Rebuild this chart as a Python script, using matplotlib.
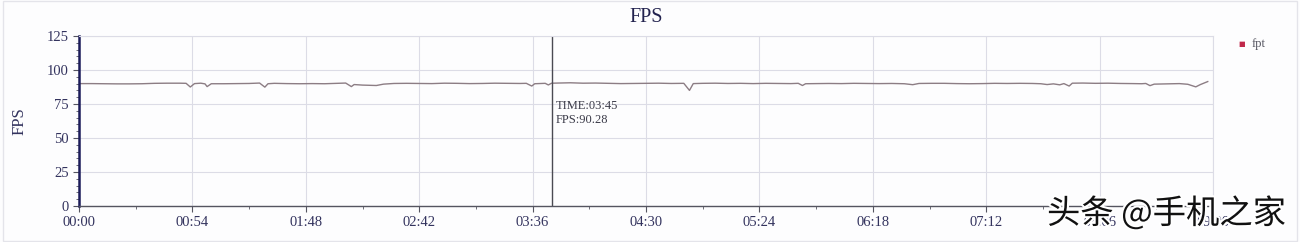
import matplotlib
matplotlib.use("Agg")
import matplotlib.pyplot as plt
from matplotlib.ticker import MultipleLocator, FuncFormatter
from matplotlib.patches import Rectangle
import matplotlib.patheffects as pe

# ---- data (seconds, fps) ----
times = [0, 6, 12, 18, 24, 30, 36, 42, 48, 51, 53, 55, 58, 60, 61, 63, 69, 75, 81, 86,
         88.5, 90, 93, 99, 105, 111, 117, 123, 127, 129.7, 131, 135, 141.6, 145, 150,
         156, 162, 168, 174, 180, 186, 192, 198, 204, 210, 213, 215.6, 217, 222, 223.5,
         225, 228, 234, 240, 246, 252, 258, 264, 270, 276, 282, 288, 290.7, 292.5, 297,
         303, 309, 315, 321, 327, 333, 339, 342.5, 344.5, 346, 351, 357, 363, 369, 375,
         381, 387, 393, 397, 400, 406, 412, 418, 424, 430, 436, 442, 448, 454, 458, 461,
         464, 467, 469, 471.5, 473, 478, 484, 490, 496, 502, 506, 508, 510, 512, 518,
         524, 528, 531.8, 534, 537.5]
fps = [90.0, 90.0, 89.9, 89.8, 89.8, 89.9, 90.2, 90.3, 90.3, 90.2, 87.5, 90.0, 90.3, 89.8,
       87.8, 89.9, 89.9, 90.0, 90.1, 90.4, 87.4, 89.9, 90.2, 90.0, 89.9, 90.0, 89.9, 90.2,
       90.4, 87.8, 89.3, 88.9, 88.6, 89.6, 90.1, 90.2, 90.1, 90.0, 90.3, 90.2, 90.0, 90.1,
       90.3, 90.2, 90.1, 90.2, 88.2, 89.9, 90.2, 89.0, 90.28, 90.4, 90.6, 90.3, 90.4, 90.2,
       90.0, 90.1, 90.2, 90.3, 90.1, 90.2, 85.0, 90.0, 90.2, 90.3, 90.1, 90.2, 90.0, 90.2,
       90.1, 90.0, 90.2, 88.6, 89.9, 90.0, 90.1, 90.0, 90.2, 90.1, 90.0, 90.1, 89.9, 89.2,
       90.1, 90.2, 90.2, 90.0, 89.9, 90.0, 90.2, 90.1, 90.2, 90.1, 89.9, 89.3, 89.8, 89.1,
       90.0, 88.2, 90.3, 90.4, 90.2, 90.3, 90.1, 90.0, 89.9, 90.1, 88.5, 89.6, 89.8, 90.0,
       89.5, 87.6, 89.3, 91.5]

cursor_time = 225
cursor_label = "TIME:03:45\nFPS:90.28"
series_name = "fpt"
title = "FPS"
watermark = "头条 @手机之家"

serif = ["Liberation Serif", "DejaVu Serif"]
txt_col = "#33335e"

fig = plt.figure(figsize=(13, 2.42), dpi=100)
fig.patch.set_facecolor("#fdfdfe")
fig.patches.append(Rectangle((0.002, 0.004), 0.996, 0.992, transform=fig.transFigure,
                             fill=False, edgecolor="#e4e4ea", lw=1))

ax = fig.add_axes([79 / 1300, 1 - 206 / 242, (1213 - 79) / 1300, (206 - 36) / 242])
ax.set_facecolor("#fdfdfe")
ax.plot(times, fps, color="#8c7d84", lw=1.0)

ax.set_xlim(0, 540)
ax.set_ylim(0, 125)
ax.xaxis.set_major_locator(MultipleLocator(54))
ax.xaxis.set_minor_locator(MultipleLocator(27))
ax.yaxis.set_major_locator(MultipleLocator(25))
ax.yaxis.set_minor_locator(MultipleLocator(5))
ax.xaxis.set_major_formatter(FuncFormatter(lambda v, p: f"{int(v)//60:02d}:{int(v)%60:02d}"))
ax.grid(True, which="major", color="#dcdce6", lw=0.8)

for s in ["top", "right"]:
    ax.spines[s].set_color("#dcdce6")
    ax.spines[s].set_linewidth(0.8)
ax.spines["left"].set_color("#1c1c5a")
ax.spines["left"].set_linewidth(1.8)
ax.spines["bottom"].set_color("#555560")
ax.spines["bottom"].set_linewidth(1.0)

ax.tick_params(axis="both", which="major", direction="out", length=4, colors="#555560",
               labelcolor=txt_col, labelsize=10.5)
ax.tick_params(axis="both", which="minor", direction="out", length=2.5, colors="#555560")
ax.tick_params(axis="x", which="major", pad=3)
for lab in ax.get_xticklabels() + ax.get_yticklabels():
    lab.set_family(serif)

ax.set_ylabel("FPS", fontsize=12, family=serif, color=txt_col, labelpad=14)
ax.set_title(title, fontsize=14.5, family=serif, color="#22224e", pad=10)

ax.axvline(cursor_time, color="#4a4a52", lw=1.0)
ax.text(cursor_time + 2, 78, cursor_label, fontsize=9, family=serif, color="#3a3a48",
        va="top", ha="left", linespacing=1.25)

fig.text(1242 / 1300, 1 - 44 / 242, "■", color="#c0284a", fontsize=5, ha="center", va="center")
fig.text(1252 / 1300, 1 - 44 / 242, series_name, color="#555560", fontsize=9,
         ha="left", va="center", family=serif)

fig.text(1047 / 1300, 1 - 214 / 242, watermark, fontsize=24, fontweight="medium",
         family=["Noto Sans CJK SC", "DejaVu Sans"],
         color="#111111", ha="left", va="center", zorder=10,
         path_effects=[pe.withStroke(linewidth=3, foreground="white")])

fig.savefig("out.png", dpi=100, facecolor=fig.get_facecolor())
